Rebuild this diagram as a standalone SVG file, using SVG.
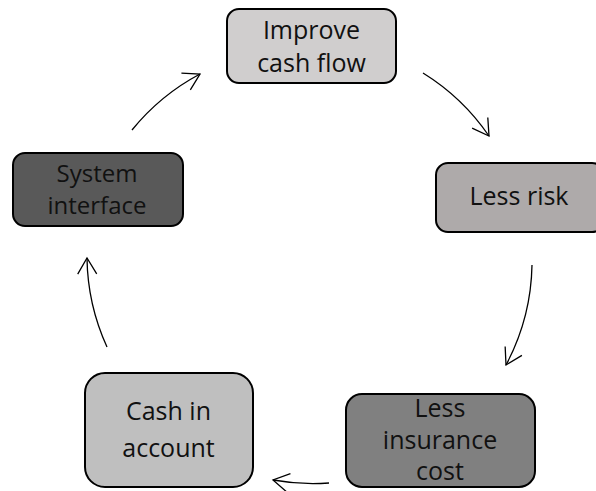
<svg xmlns="http://www.w3.org/2000/svg" width="596" height="491" viewBox="0 0 596 491">
  <style>
    .box { stroke: #000; stroke-width: 2; }
    .label { font-family: "Open Sans", "Noto Sans", "Liberation Sans", sans-serif; font-size: 25px; fill: #111; text-anchor: middle; }
    .link { fill: none; stroke: #000; stroke-width: 1.3; marker-end: url(#head); }
  </style>
  <defs>
    <marker id="head" markerUnits="userSpaceOnUse" viewBox="-20 -12 22 24" refX="0" refY="0" markerWidth="22" markerHeight="24" orient="auto">
      <path d="M-16,-9.5 L0,0 L-16,9.5" fill="none" stroke="#000" stroke-width="1.3" stroke-linejoin="miter"/>
    </marker>
  </defs>
  <rect width="596" height="491" fill="#fff"/>

  <!-- cycle connectors -->
  <g id="connectors">
    <path class="link" d="M423,73 A221,221 0 0,1 489,136"/>
    <path class="link" d="M532,265 A221,221 0 0,1 506,365"/>
    <path class="link" d="M329,483 A221,221 0 0,1 273,480"/>
    <path class="link" d="M107,347 A221,221 0 0,1 87,258"/>
    <path class="link" d="M132,130 A221,221 0 0,1 200,74"/>
  </g>

  <g id="improve-cash-flow">
    <rect class="box" x="227" y="9" width="169" height="74" rx="12" fill="#d0cece"/>
    <text class="label" x="311.5" y="39">Improve</text>
    <text class="label" x="311.5" y="71.5">cash flow</text>
  </g>

  <g id="less-risk">
    <rect class="box" x="436" y="163" width="168" height="69" rx="12" fill="#aeaaaa"/>
    <text class="label" x="519" y="205">Less risk</text>
  </g>

  <g id="less-insurance-cost">
    <rect class="box" x="346" y="394" width="189" height="93" rx="16" fill="#808080"/>
    <text class="label" x="440" y="416.5">Less</text>
    <text class="label" x="440" y="448.5">insurance</text>
    <text class="label" x="440" y="480">cost</text>
  </g>

  <g id="cash-in-account">
    <rect class="box" x="85" y="373" width="168" height="114" rx="20" fill="#bfbfbf"/>
    <text class="label" x="168.5" y="419.5">Cash in</text>
    <text class="label" x="168.5" y="456.5">account</text>
  </g>

  <g id="system-interface">
    <rect class="box" x="13" y="153" width="170" height="73" rx="12" fill="#595959"/>
    <text class="label" x="97" y="182" style="font-size:24px">System</text>
    <text class="label" x="97" y="214" style="font-size:24px">interface</text>
  </g>
</svg>
